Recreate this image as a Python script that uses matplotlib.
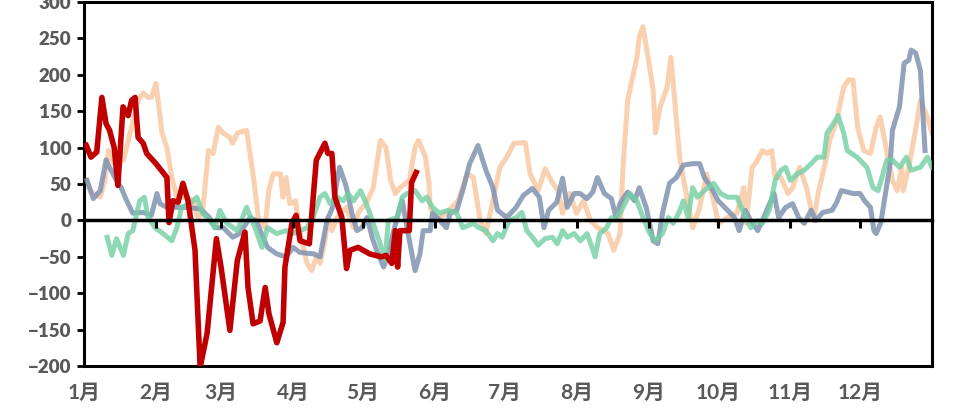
import matplotlib
matplotlib.use("Agg")
import matplotlib.pyplot as plt

plt.rcParams['font.family'] = ['Lato', 'Noto Sans CJK SC', 'DejaVu Sans']

# month starts (day of year) and labels
month_days = [0, 31, 59, 90, 120, 151, 181, 212, 243, 273, 304, 334]
month_labels = ['1月', '2月', '3月', '4月', '5月', '6月', '7月', '8月', '9月', '10月', '11月', '12月']

# orange series
orange_x = [1, 3, 7, 9, 10.5, 13, 17, 20.5, 23.3, 25.5, 27.6, 29, 31, 33.6, 35.7, 37.8, 40, 44, 47, 49,
            51, 53.6, 55.6, 57.8, 60, 62.8, 64, 66, 70, 73, 75, 78, 79.5, 81.5, 84.6, 85.6, 87, 88.6, 91, 93,
            96, 98, 100, 101.6, 103.7, 105, 106.7, 109, 113, 116, 118, 122, 124.5, 127.6, 130, 132, 134, 136,
            140, 142.5, 144, 147, 148.5, 149, 152, 156, 161, 165, 167.6, 170.5, 173, 176, 179, 182, 185, 190,
            192, 195.5, 198.5, 201.6, 204, 206, 209, 212, 215, 218, 221, 223.5, 225.6, 228, 230.7, 232, 234,
            238, 239, 240.6, 243, 245, 246, 248, 251, 252.6, 254, 256.5, 259, 262, 265, 268, 271, 273, 277,
            281, 284, 285, 287.6, 289, 292, 294, 296, 297.5, 300, 303, 305, 308, 311, 314, 316, 318.6, 321,
            324, 327, 329, 331, 333, 335.6, 338.5, 341, 342.7, 344.6, 348, 350, 352, 352.6, 355, 357.7, 360,
            363, 365]
orange_y = [55, 39, 32, 55, 96, 78, 83, 128, 165, 175, 169, 169, 188, 120, 100, 59, 32, 32, 27, 4,
            10, 96, 92, 128, 120, 114, 106, 120, 124, 59, 4, -10, 41, 64, 64, 32, 59, 23, 27, -18,
            -59, -69, -50, -59, -28, 4, -14, 4, 18, -10, 10, 27, 45, 110, 100, 55, 37, 45,
            55, 100, 110, 87, 51, 18, 0, 10, 27, 64, 59, 0, -18, 27, 73, 87, 106, 107,
            64, 41, 71, 52, 41, 10, 37, 10, 27, 0, -10, -14, -18, -41, -18, 73, 165,
            224, 252, 266, 220, 179, 120, 156, 183, 224, 175, 83, 41, -10, 18, 64, 27, -4, 4,
            10, 45, -4, 73, 78, 96, 92, 96, 59, 59, 37, 45, 73, 45, 0, 37, 73, 110,
            138, 183, 193, 193, 128, 96, 92, 128, 142, 110, 55, 41, 73, 41, 73, 120, 165,
            142, 120]

# blue-grey series
blue_x = [1.3, 4, 7, 9.5, 11, 14, 16, 18.4, 21, 25.5, 29, 31.4, 32.7, 35.7, 40, 44, 50, 54, 56.4, 60,
          64, 67, 71.5, 74, 79, 83, 87, 90, 93, 99, 101.6, 104.6, 107, 110, 112, 113, 115.3, 117.5, 119.6,
          121.8, 124.5, 126.6, 129, 131, 133, 136, 137, 139.5, 142.5, 144.6, 146, 149, 150, 152, 156,
          157.6, 160.5, 163, 166, 169.6, 173, 176, 178, 182, 186, 189, 193, 196, 198, 200, 203.5, 206, 208,
          211, 213.5, 216.5, 219, 221, 224, 227, 229, 230.7, 234, 237, 239, 242, 245, 247, 249, 252, 255,
          258, 262, 265, 267, 270, 273, 277, 280, 282, 284.6, 287, 290, 292, 297, 299, 302, 305, 307.6,
          310, 313, 315, 318, 322, 324, 326, 331, 334, 336, 338.5, 340, 341, 343, 347, 348, 351, 353, 355,
          356, 358, 360, 362]
blue_y = [55, 30, 41, 83, 73, 55, 45, 27, 10, 11, 7, 37, 23, 18, 18, 18, 16, 4, -10, -10,
          -23, -18, 4, 0, -37, -46, -50, -37, -44, -46, -50, 0, 18, 73, 55, 45, 10, -14, -10,
          4, -28, -46, -64, -46, -18, 18, 27, -18, -69, -46, -14, -14, 10, 4, -10,
          10, 14, 41, 78, 103, 69, 45, 14, 4, 18, 34, 44, 32, -10, 14, 25, 58, 18,
          37, 37, 30, 39, 59, 37, 30, 4, 23, 39, 27, 45, 18, -28, -32, 10, 51, 59,
          76, 78, 78, 59, 45, 27, 14, 4, -14, 14, 0, -14, 0, 37, 4, 18, 23, 4,
          -4, 14, 0, 11, 14, 25, 41, 37, 37, 27, 18, -14, -18, -3, 78, 124, 156, 216, 220,
          234, 230, 206, 96]

# green series
green_x = [10, 12, 14, 17, 19, 21, 24, 26, 27.6, 30.6, 34, 37.8, 40, 42, 45.6, 48.6, 51, 54, 56.4, 58.5,
           61.5, 66, 70, 73.6, 76.6, 79, 83, 87, 90, 96, 98.6, 101.6, 103.7, 106, 109, 111.6, 113.7, 116,
           119, 121, 123, 126, 128, 129.6, 131, 134.7, 137, 139, 142.5, 145.5, 147.5, 150, 153, 156.6,
           160.5, 163, 167.6, 170, 173, 176, 178, 180, 183, 186, 188.5, 190.6, 193, 195.5, 198.5, 201.6,
           203.7, 206, 208, 211, 213.6, 216.5, 218.7, 220, 222, 225, 227, 229, 232, 235, 238, 240.6, 243.6,
           246, 249, 251.5, 253.6, 256, 258, 260, 262, 264, 267, 271, 274, 277, 281, 284, 287, 290, 292,
           295, 297.5, 300, 302, 304, 307, 310, 313, 315.6, 318.5, 319.8, 322.6, 324.6, 327, 328.5, 332.7,
           337, 339.6, 341.8, 345.6, 348, 351, 354, 356, 360, 363, 365]
green_y = [-23, -48, -25, -48, -18, -14, 27, 32, 4, -10, -18, -28, -10, 18, 23, 32, 10, 0, -10, 14,
           -4, -14, 18, -10, -37, -10, -18, -14, -18, -10, 4, 32, 37, 23, 32, 27, 37, 27,
           41, 27, 10, -18, -37, -55, 0, 4, 32, 37, 41, 27, 32, 18, 10, 14,
           10, -10, -4, -10, -14, -28, -18, -23, 0, 4, 11, -14, -23, -34, -25, -23,
           -32, -14, -23, -18, -28, -18, -37, -50, -18, -10, 4, 0, 18, 37, 27, 4, -18,
           -28, -18, 4, -4, 10, 27, 4, 45, 32, 41, 51, 37, 32, 32, 10, -10, 0, -4,
           14, 55, 69, 73, 55, 64, 69, 78, 87, 87, 120, 133, 144, 120, 96, 87,
           73, 45, 41, 83, 83, 73, 87, 69, 73, 87, 73]

# red series (current year)
red_x = [1, 3, 5.5, 7.7, 9.5, 11, 13, 14.6, 16.8, 19, 20.5, 22, 23.3, 25.5, 27, 31, 35.7, 36.6, 38.3,
         40.5, 42.6, 44.8, 47.8, 50, 53, 57, 59, 62.8, 66, 69.3, 70.6, 72.8, 75.8, 78, 79.6, 83, 85.7,
         86.5, 89.5, 91.3, 93, 97, 100, 103.7, 105, 106.7, 108, 111, 113, 114.5, 118, 123, 128, 130,
         132.5, 134, 135, 136, 140, 141, 143]
red_y = [103, 87, 94, 169, 133, 124, 100, 48, 156, 144, 165, 169, 114, 106, 92, 78, 59, -3, 27,
         25, 51, 27, -41, -202, -155, -25, -64, -151, -55, -16, -92, -142, -138, -92, -128, -168, -140,
         -64, -4, 7, -28, -32, 83, 106, 92, 92, 32, 4, -66, -41, -37, -46, -50, -48,
         -59, -14, -64, -14, -14, 52, 66]

fig = plt.figure(figsize=(9.63, 4.09), dpi=100)
ax = fig.add_axes([0.0872, 0.105, 0.8806, 0.890])

ax.plot(orange_x, orange_y, color='#F8C8A2', lw=3.6, alpha=0.85, zorder=2)
ax.plot(blue_x, blue_y, color='#7F93B0', lw=3.6, alpha=0.85, zorder=3)
ax.plot(green_x, green_y, color='#72CFA4', lw=3.6, alpha=0.8, zorder=3)
ax.plot(red_x, red_y, color='#C00000', lw=4.0, zorder=5)

ax.set_xlim(0, 365)
ax.set_ylim(-200, 300)
ax.set_yticks(range(-200, 301, 50))

for s in ax.spines.values():
    s.set_linewidth(2.2)
    s.set_color('black')

ax.tick_params(axis='y', direction='out', length=5, width=2, color='black',
               labelsize=13.5, labelcolor='#595959', pad=4)
for t in ax.get_yticklabels():
    t.set_fontweight('heavy')

ax.set_xticks(month_days)
ax.set_xticklabels(month_labels, fontsize=15, fontweight='bold', color='#595959')
ax.tick_params(axis='x', length=0, pad=12)

# zero line carrying the month tick marks
zero_ax = ax.secondary_xaxis(0.4)
zero_ax.set_xticks(month_days)
zero_ax.set_xticklabels([])
zero_ax.spines['bottom'].set_linewidth(2.5)
zero_ax.tick_params(direction='out', length=6, width=2.2, color='black')
zero_ax.set_zorder(6)

fig.savefig('out.png', dpi=100)
